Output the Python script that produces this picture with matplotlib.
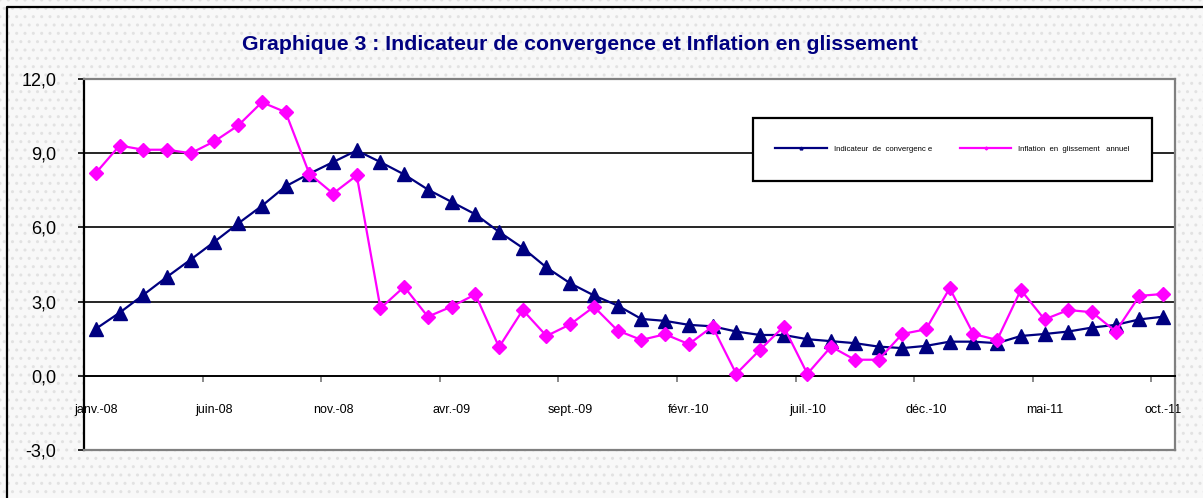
"""Graphique 3 : Indicateur de convergence et Inflation en glissement -> out.png"""
import matplotlib

matplotlib.use("Agg")
import matplotlib.pyplot as plt  # noqa: E402
from matplotlib.lines import Line2D  # noqa: E402
from matplotlib.patches import Rectangle  # noqa: E402

# monthly, janv.-08 .. oct.-11 (46 months)
months = ["janv.-08", "févr.-08", "mars-08", "avr.-08", "mai-08",
          "juin-08", "juil.-08", "août-08", "sept.-08", "oct.-08",
          "nov.-08", "déc.-08", "janv.-09", "févr.-09", "mars-09",
          "avr.-09", "mai-09", "juin-09", "juil.-09", "août-09",
          "sept.-09", "oct.-09", "nov.-09", "déc.-09", "janv.-10",
          "févr.-10", "mars-10", "avr.-10", "mai-10", "juin-10",
          "juil.-10", "août-10", "sept.-10", "oct.-10", "nov.-10",
          "déc.-10", "janv.-11", "févr.-11", "mars-11", "avr.-11",
          "mai-11", "juin-11", "juil.-11", "août-11", "sept.-11",
          "oct.-11"]
convergence = [1.9, 2.55, 3.27, 4.0, 4.7, 5.42, 6.16, 6.87, 7.66, 8.17,
               8.64, 9.11, 8.64, 8.14, 7.53, 7.03, 6.53, 5.82, 5.17, 4.38,
               3.74, 3.25, 2.84, 2.30, 2.22, 2.06, 2.0, 1.79, 1.65, 1.65,
               1.48, 1.4, 1.32, 1.18, 1.12, 1.21, 1.38, 1.38, 1.32, 1.61,
               1.69, 1.79, 1.95, 2.06, 2.28, 2.39]
inflation = [8.2, 9.31, 9.14, 9.14, 9.0, 9.48, 10.12, 11.06, 10.66, 8.17,
             7.37, 8.1, 2.73, 3.6, 2.39, 2.8, 3.29, 1.16, 2.66, 1.61,
             2.08, 2.79, 1.83, 1.45, 1.68, 1.28, 1.99, 0.08, 1.05, 1.99,
             0.08, 1.18, 0.65, 0.65, 1.69, 1.88, 3.54, 1.69, 1.45, 3.47,
             2.28, 2.66, 2.57, 1.79, 3.23, 3.31]
series_names = ["Indicateur  de  convergenc e",
                "Inflation  en  glissement   annuel"]
yticks = [-3, 0, 3, 6, 9, 12]
label_step = 5

navy = "#000080"
magenta = "#FF00FF"
plt.rcParams["font.family"] = ["Liberation Sans", "DejaVu Sans"]

fig = plt.figure(figsize=(12.03, 4.98), dpi=100)
# dotted chart-area background
fig.patches.append(Rectangle((0, 0), 1, 1, transform=fig.transFigure,
                             facecolor="#f8f8f8", edgecolor="#e2e2e2",
                             hatch="..", linewidth=0, zorder=-10))
fig.add_artist(Line2D([7 / 1203, 7 / 1203, 1], [0, 1 - 7 / 498, 1 - 7 / 498],
                      color="black", lw=1.6))

ax = fig.add_axes([84 / 1203, 48 / 498, 1091 / 1203, 371 / 498])
ax.set_facecolor("white")
x = list(range(len(months)))

for yv in (3, 6, 9):
    ax.axhline(yv, color="black", lw=1.2, zorder=1)

ax.plot(x, convergence, color=navy, lw=1.6, marker="^", ms=10.5, zorder=3)
ax.plot(x, inflation, color=magenta, lw=1.6, marker="D", ms=7.3, zorder=4)

ax.set_xlim(-0.5, len(months) - 0.5)
ax.set_ylim(yticks[0], yticks[-1])
ax.set_yticks(yticks, [f"{v:.1f}".replace(".", ",") for v in yticks])
ax.tick_params(axis="y", direction="out", length=4, width=1.2, pad=16,
               labelsize=13)

# ticks between categories, labels on categories
ax.set_xticks([i - 0.5 for i in range(label_step, len(months), label_step)])
ax.set_xticks(x[::label_step], minor=True)
ax.set_xticklabels(months[::label_step], minor=True)
ax.tick_params(axis="x", which="major", direction="out", length=4,
               width=1.2, labelbottom=False, color="#777777")
ax.tick_params(axis="x", which="minor", length=0, pad=20, labelsize=9)

ax.spines["bottom"].set_position(("data", 0))
ax.spines["bottom"].set_linewidth(1.4)
ax.spines["left"].set_linewidth(1.6)
for s in ("top", "right"):
    ax.spines[s].set_color("#808080")
    ax.spines[s].set_linewidth(1.6)
ax.plot([0, 1], [0, 0], transform=ax.transAxes, color="#808080", lw=1.6,
        clip_on=False, zorder=5)

# legend box
bx0, bx1 = (753 - 84) / 1091, (1152 - 84) / 1091
by0, by1 = (450 - 181) / 371, (450 - 118) / 371
ax.add_patch(Rectangle((bx0, by0), bx1 - bx0, by1 - by0,
                       transform=ax.transAxes, facecolor="white",
                       edgecolor="black", lw=1.6, zorder=6))
handles = [Line2D([], [], color=navy, lw=1.6, marker="^", ms=2),
           Line2D([], [], color=magenta, lw=1.6, marker="D", ms=1.5)]
ax.legend(handles, series_names,
          loc="center", bbox_to_anchor=((bx0 + bx1) / 2, (by0 + by1) / 2),
          ncol=2, frameon=False, fontsize=5.6, handlelength=6.6,
          columnspacing=3.6, handletextpad=0.9).set_zorder(7)

fig.text(580 / 1203, 1 - 45 / 498,
         "Graphique 3 : Indicateur de convergence et Inflation en glissement",
         ha="center", va="center", fontsize=15.3, fontweight="bold",
         color=navy, family=["Liberation Sans Narrow", "Liberation Sans"])

fig.savefig("out.png", dpi=100, facecolor="white")
